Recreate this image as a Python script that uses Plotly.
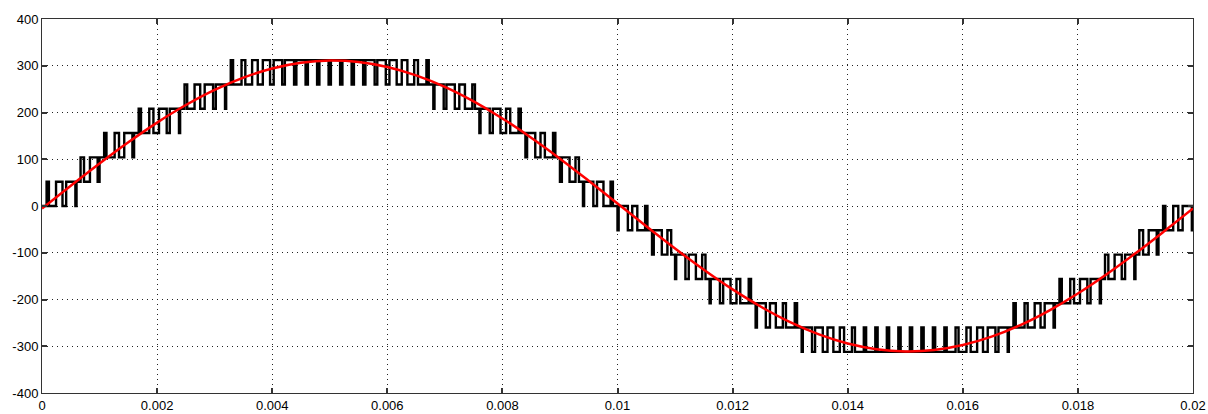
import plotly.graph_objects as go

# ---------------- data ----------------
# staircase inverter output: one entry per carrier period
carrier_period = 0.0002      # s
level_step = 52              # V between adjacent levels
# index of the lower level used in each carrier period
band = [0, 0, 0, 1, 1, 2, 2, 2, 3, 3, 3, 3, 4, 4, 4, 4, 5, 5, 5, 5, 5, 5, 5, 5, 5,
        5, 5, 5, 5, 5, 5, 5, 5, 5, 4, 4, 4, 4, 3, 3, 3, 3, 2, 2, 2, 1, 1, 0, 0, 0,
        -1, -1, -1, -2, -2, -3, -3, -3, -4, -4, -4, -4, -5, -5, -5, -5, -6, -6, -6, -6, -6, -6, -6, -6, -6,
        -6, -6, -6, -6, -6, -6, -6, -6, -6, -5, -5, -5, -5, -4, -4, -4, -4, -3, -3, -3, -2, -2, -1, -1, -1]
# fraction of each carrier period spent at the upper level
duty = [0.20, 0.56, 0.80, 0.30, 0.67, 0.20, 0.38, 0.71, 0.20, 0.36, 0.67, 0.80, 0.23, 0.49, 0.73, 0.80, 0.20, 0.33, 0.49, 0.63, 0.74, 0.80, 0.80, 0.80, 0.80,
        0.80, 0.80, 0.80, 0.80, 0.74, 0.63, 0.49, 0.33, 0.20, 0.80, 0.73, 0.49, 0.23, 0.80, 0.67, 0.36, 0.20, 0.71, 0.38, 0.20, 0.67, 0.30, 0.80, 0.56, 0.20,
        0.80, 0.44, 0.20, 0.70, 0.33, 0.80, 0.62, 0.29, 0.80, 0.64, 0.33, 0.20, 0.77, 0.51, 0.27, 0.20, 0.80, 0.67, 0.51, 0.37, 0.26, 0.20, 0.20, 0.20, 0.20,
        0.20, 0.20, 0.20, 0.20, 0.26, 0.37, 0.51, 0.67, 0.80, 0.20, 0.27, 0.51, 0.77, 0.20, 0.33, 0.64, 0.80, 0.29, 0.62, 0.80, 0.33, 0.70, 0.20, 0.44, 0.80]

# red reference sine, sampled every 0.5 ms
sine_step = 0.0005
sine_v = [-5.4, 43.3, 90.9, 136.3, 178.4, 216.0, 248.4, 274.6, 294.1, 306.3, 311.0,
          308.0, 297.4, 279.5, 254.8, 223.7, 187.2, 146.0, 101.3, 54.0, 5.4,
          -43.3, -90.9, -136.3, -178.4, -216.0, -248.4, -274.6, -294.1, -306.3, -311.0,
          -308.0, -297.4, -279.5, -254.8, -223.7, -187.2, -146.0, -101.3, -54.0, -5.4]

x_ticks = [0, 0.002, 0.004, 0.006, 0.008, 0.01, 0.012, 0.014, 0.016, 0.018, 0.02]
x_labels = ["0", "0.002", "0.004", "0.006", "0.008", "0.01", "0.012", "0.014", "0.016", "0.018", "0.02"]
y_ticks = [-400, -300, -200, -100, 0, 100, 200, 300, 400]
y_labels = ["-400", "-300", "-200", "-100", "0", "100", "200", "300", "400"]

# ---------------- build traces ----------------
px, py = [], []
for i, (b, d) in enumerate(zip(band, duty)):
    t0 = i * carrier_period
    lo = b * level_step
    hi = (b + 1) * level_step
    w = d * carrier_period
    t1 = t0 + (carrier_period - w) / 2
    t2 = t1 + w
    px += [t0, t1, t1, t2, t2, t0 + carrier_period]
    py += [lo, lo, hi, hi, lo, lo]

sine_t = [k * sine_step for k in range(len(sine_v))]

fig = go.Figure()
fig.add_trace(go.Scatter(x=px, y=py, mode="lines",
                         line=dict(color="#000000", width=2.4, simplify=False),
                         hoverinfo="skip", showlegend=False))
fig.add_trace(go.Scatter(x=sine_t, y=sine_v, mode="lines",
                         line=dict(color="#ff0000", width=2.5, shape="spline"),
                         showlegend=False))

axis_common = dict(
    showline=True, linecolor="#333333", linewidth=1, mirror="ticks",
    ticks="inside", ticklen=5, tickcolor="#333333", tickwidth=1.5,
    showgrid=True, gridcolor="#222222", gridwidth=1, griddash="1px,4px",
    zeroline=False, automargin=False, ticklabeloverflow="allow",
    tickfont=dict(family="Liberation Sans, Arial, sans-serif", size=13, color="#000000"),
)

fig.update_xaxes(range=[0, 0.02], tickmode="array", tickvals=x_ticks, ticktext=x_labels, **axis_common)
fig.update_yaxes(range=[-400, 400], tickmode="array", tickvals=y_ticks, ticktext=y_labels, **axis_common)

fig.update_layout(
    template="none",
    width=1208, height=414,
    margin=dict(l=42, r=15, t=19, b=21),
    paper_bgcolor="#ffffff", plot_bgcolor="#ffffff",
    showlegend=False,
)

fig.write_html(
    "out.html",
    config={"displayModeBar": False},
    post_script="document.body.style.margin='0';document.body.style.overflow='hidden';",
)
